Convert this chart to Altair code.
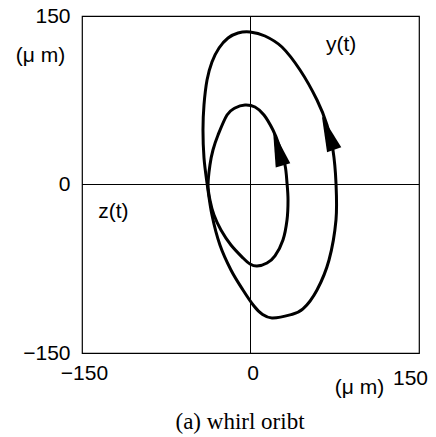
import altair as alt
import pandas as pd

# Whirl orbit of the shaft centre: horizontal z(t) and vertical y(t) displacement in micrometres
outer_z = [19.1, 35.2, 46.7, 59.2, 69.9, 76.1, 76.1, 73.4, 68.1, 59.2, 44.1, 28.0, 12.9, -0.4,
           -11.1, -20.0, -28.0, -34.3, -38.7, -41.4, -42.3, -41.4, -38.7, -34.3, -27.2, -17.4,
           -6.7, 3.1, 10.2]
outer_y = [-118.8, -116.1, -110.8, -93.9, -67.2, -31.6, 1.3, 30.7, 53.0, 75.2, 101.9, 122.4,
           132.2, 135.8, 134.9, 130.4, 121.5, 109.1, 93.0, 70.8, 48.5, 23.6, 1.3, -27.2, -53.9,
           -76.1, -93.9, -108.2, -115.3]

inner_z = [5.8, 14.7, 21.8, 28.9, 32.5, 33.4, 32.5, 30.7, 25.4, 20.0, 12.0, 4.0, -4.9, -13.8,
           -20.9, -28.9, -33.4, -36.1, -37.8, -36.1, -32.5, -26.3, -17.4, -6.7, -0.4]
inner_y = [-72.6, -69.9, -63.6, -49.4, -31.6, -13.8, 1.3, 17.4, 35.2, 48.5, 61.9, 69.0, 70.8,
           68.1, 61.9, 44.1, 30.7, 17.4, -0.4, -13.8, -27.2, -40.5, -53.9, -65.4, -70.8]

# Direction arrows on each orbit
arrow_z = [24.5, 69.0]
arrow_y = [32.5, 46.0]
arrow_angle = [344, 340]

# Curve labels
label_text = ["y(t)", "z(t)"]
label_z = [80.6, -122.0]
label_y = [124.2, -24.5]

tick_values = [-150, 0, 150]

orbit = pd.DataFrame(
    [{"z": z, "y": y, "orbit": "outer", "i": i} for i, (z, y) in enumerate(zip(outer_z, outer_y))]
    + [{"z": z, "y": y, "orbit": "inner", "i": i} for i, (z, y) in enumerate(zip(inner_z, inner_y))]
)
arrows = pd.DataFrame({"z": arrow_z, "y": arrow_y, "angle": arrow_angle})
labels = pd.DataFrame({"text": label_text, "z": label_z, "y": label_y})
origin = pd.DataFrame({"v": [0]})

FONT = "Liberation Sans"
FS = 21
dom = [-150, 150]

x_axis = alt.Axis(
    values=tick_values, grid=False, ticks=False, domain=False, labelFlush=False,
    labelFont=FONT, labelFontSize=FS, labelColor="black",
    labelPadding={"condition": {"test": "datum.value == 150", "value": 14}, "value": 9},
    labelOffset={"condition": {"test": "datum.value == 150", "value": -9},
                 "value": 2},
    title="(\u03bc m)", titleFont=FONT, titleFontSize=FS, titleFontWeight="normal",
    titleColor="black", titleX=277, titleY=34, titleAlign="center", titleBaseline="middle",
)
y_axis = alt.Axis(
    values=tick_values, grid=False, ticks=False, domain=False,
    labelFont=FONT, labelFontSize=FS, labelColor="black", labelPadding=12,
    title="(\u03bc m)", titleFont=FONT, titleFontSize=FS, titleFontWeight="normal",
    titleColor="black", titleAngle=0, titleX=-42, titleY=39, titleAlign="center",
    titleBaseline="middle",
)

xs = alt.Scale(domain=dom, nice=False, zero=False)
ys = alt.Scale(domain=dom, nice=False, zero=False)

curves = alt.Chart(orbit).mark_line(
    color="black", strokeWidth=3, interpolate="cardinal-closed"
).encode(
    x=alt.X("z:Q", scale=xs, axis=x_axis),
    y=alt.Y("y:Q", scale=ys, axis=y_axis),
    detail="orbit:N",
    order="i:Q",
)

vline = alt.Chart(origin).mark_rule(color="black", strokeWidth=1).encode(
    x=alt.X("v:Q", scale=xs)
)
hline = alt.Chart(origin).mark_rule(color="black", strokeWidth=1).encode(
    y=alt.Y("v:Q", scale=ys)
)

heads = alt.Chart(arrows).mark_point(
    shape="M0,-1L0.42,1L-0.42,1Z", filled=True, color="black", opacity=1, size=1300
).encode(
    x=alt.X("z:Q", scale=xs),
    y=alt.Y("y:Q", scale=ys),
    angle=alt.Angle("angle:Q", scale=None),
)

texts = alt.Chart(labels).mark_text(
    font=FONT, fontSize=FS, color="black", align="center", baseline="middle"
).encode(
    x=alt.X("z:Q", scale=xs),
    y=alt.Y("y:Q", scale=ys),
    text="text:N",
)

caption = alt.Chart(pd.DataFrame({"t": ["(a)  whirl oribt"]})).mark_text(
    font="Liberation Serif", fontSize=23, color="black", align="center", baseline="middle"
).encode(
    x=alt.value(158), y=alt.value(406), text="t:N"
)

chart = alt.layer(vline, hline, curves, heads, texts, caption).properties(
    width=337, height=337,
    padding={"left": 82, "top": 16, "right": 17, "bottom": 84},
    autosize=alt.AutoSizeParams(type="none"),
).configure_view(stroke="black", strokeWidth=1.2)

chart.save("out.html", embed_options={"renderer": "svg", "actions": False})
